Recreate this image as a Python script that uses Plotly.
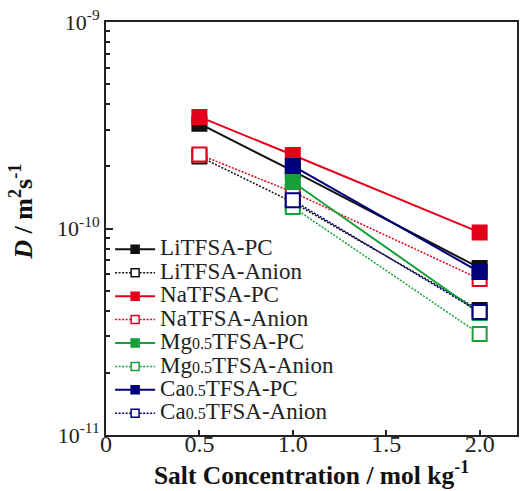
import plotly.graph_objects as go

# Salt concentration (mol/kg)
conc = [0.5, 1.0, 2.0]
conc_mc = [1.0, 2.0]  # Mg/Ca salts measured only at 1.0 and 2.0

# Self-diffusion coefficients D (m^2/s)
li_pc = [3.22e-10, 1.90e-10, 6.44e-11]
li_anion = [2.23e-10, 1.34e-10, 4.03e-11]
na_pc = [3.47e-10, 2.27e-10, 9.57e-11]
na_anion = [2.28e-10, 1.50e-10, 5.69e-11]
mg_pc = [1.68e-10, 3.90e-11]
mg_anion = [1.27e-10, 3.08e-11]
ca_pc = [2.01e-10, 6.15e-11]
ca_anion = [1.37e-10, 3.94e-11]

x_tickvals = [0, 0.5, 1.0, 1.5, 2.0]
x_ticktext = ["0", "0.5", "1.0", "1.5", "2.0"]
y_tickvals = [1e-11, 1e-10, 1e-9]
y_ticktext = ["10<sup>-11</sup>", "10<sup>-10</sup>", "10<sup>-9</sup>"]

BLACK = "#111111"
RED = "#e3001b"
GREEN = "#16a03a"
NAVY = "#00007a"

FONT = "Liberation Serif"
LEG_PX = 23


def leg_name(parts):
    """Legend label built from (text, px) pieces so the cation subscript can be smaller."""
    return "".join(f'<span style="font-size:{px}px">{t}</span>' for t, px in parts)


series = [
    (conc, li_pc, BLACK, True, [("LiTFSA-PC", LEG_PX)]),
    (conc, li_anion, BLACK, False, [("LiTFSA-Anion", LEG_PX)]),
    (conc, na_pc, RED, True, [("NaTFSA-PC", LEG_PX)]),
    (conc, na_anion, RED, False, [("NaTFSA-Anion", LEG_PX)]),
    (conc_mc, mg_pc, GREEN, True, [("Mg", LEG_PX), ("0.5", 16), ("TFSA-PC", LEG_PX)]),
    (conc_mc, mg_anion, GREEN, False, [("Mg", LEG_PX), ("0.5", 16), ("TFSA-Anion", LEG_PX)]),
    (conc_mc, ca_pc, NAVY, True, [("Ca", LEG_PX), ("0.5", 16), ("TFSA-PC", LEG_PX)]),
    (conc_mc, ca_anion, NAVY, False, [("Ca", LEG_PX), ("0.5", 16), ("TFSA-Anion", LEG_PX)]),
]


def line_style(color, filled):
    return dict(color=color, width=2 if filled else 1.5,
                dash="solid" if filled else "2px,1.5px")


fig = go.Figure()
# data traces (large markers on the plot)
for xs, ys, color, filled, parts in series:
    fig.add_trace(go.Scatter(
        x=xs, y=ys, mode="lines+markers", showlegend=False,
        line=line_style(color, filled),
        marker=dict(symbol="square", size=14,
                    color=color if filled else "white",
                    line=dict(color=color, width=2)),
    ))
# legend keys: same styling with smaller markers, no points of their own
for xs, ys, color, filled, parts in series:
    fig.add_trace(go.Scatter(
        x=[None], y=[None], mode="lines+markers", name=leg_name(parts),
        line=line_style(color, filled),
        marker=dict(symbol="square", size=8,
                    color=color if filled else "white",
                    line=dict(color=color, width=1.5)),
    ))

axis_common = dict(
    showline=True, linecolor="#222222", linewidth=2, mirror=True,
    ticks="inside", tickcolor="#222222", tickwidth=1.5,
    showgrid=False, zeroline=False,
)

fig.update_xaxes(
    range=[0, 2.2], tickmode="array", tickvals=x_tickvals, ticktext=x_ticktext,
    ticklen=5, ticklabelstandoff=-14,
    tickfont=dict(family=FONT, size=24, color="#222222"),
    title=dict(text="<b>Salt Concentration / mol kg<sup>-1</sup></b>",
               font=dict(family=FONT, size=25.5, color="#111111"), standoff=0),
    **axis_common,
)
fig.update_yaxes(
    type="log", range=[-11, -9], tickmode="array",
    tickvals=y_tickvals, ticktext=y_ticktext, ticklen=7,
    tickfont=dict(family=FONT, size=22, color="#222222"),
    minor=dict(ticks="inside", ticklen=4, dtick="D1", tickcolor="#222222",
               tickwidth=1.5, showgrid=False),
    **axis_common,
)

# y-axis title placed as a rotated label left of the tick labels
fig.add_annotation(
    text="<b><i>D</i> / m<sup>2</sup>s<sup>-1</sup></b>",
    xref="paper", yref="paper", x=-0.205, y=0.54,
    xanchor="center", yanchor="middle", textangle=-90, showarrow=False,
    font=dict(family=FONT, size=26, color="#111111"),
)

fig.update_layout(
    width=520, height=491,
    margin=dict(l=106, r=1, t=22, b=56),
    paper_bgcolor="white", plot_bgcolor="white",
    showlegend=True,
    legend=dict(
        x=0.01, y=0.49, xanchor="left", yanchor="top",
        bgcolor="rgba(0,0,0,0)", borderwidth=0,
        font=dict(family=FONT, size=15.7, color="#222222"),
        itemsizing="trace", itemwidth=40, tracegroupgap=0,
    ),
)

fig.write_html("out.html")
